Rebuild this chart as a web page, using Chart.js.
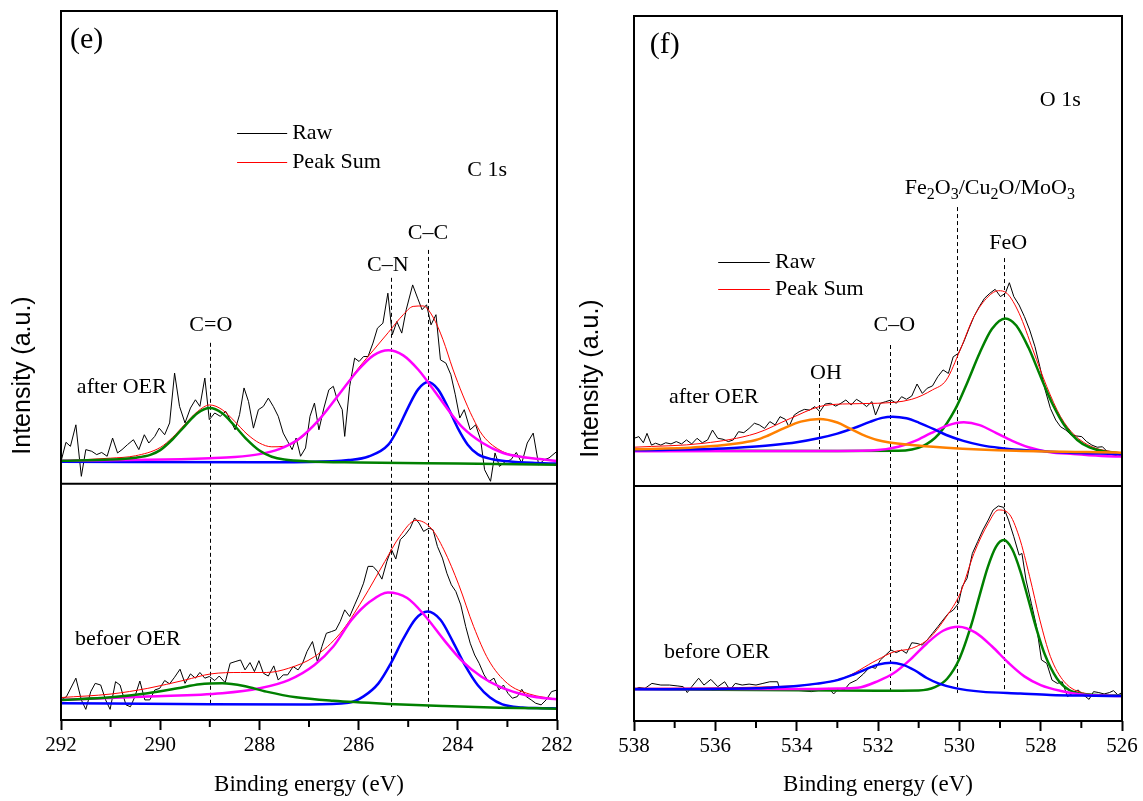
<!DOCTYPE html>
<html>
<head>
<meta charset="utf-8">
<script src="https://cdn.jsdelivr.net/npm/chart.js@4.4.1/dist/chart.umd.min.js"></script>
<style>
html, body { margin: 0; padding: 0; background: #fff; }
#wrapE { position: absolute; left: 0; top: 0; width: 590px; height: 801px; }
#wrapF { position: absolute; left: 560px; top: 0; width: 583px; height: 801px; }
</style>
</head>
<body>
<div id="wrapE"><canvas id="chartE"></canvas></div>
<div id="wrapF"><canvas id="chartF"></canvas></div>
<script>
/*globals Chart*/
// (e) C 1s -- [binding energy (eV), intensity (a.u.)]
const eTicks = [292, 290, 288, 286, 284, 282];
const eRawAfter = [[292.0,9.4],[291.9,17.5],[291.81,15.8],[291.7,24.9],[291.59,3.1],[291.5,14.4],[291.38,13.7],[291.28,12.3],[291.18,13.2],[291.07,11.6],[290.96,19.3],[290.86,13.0],[290.77,14.4],[290.66,16.5],[290.54,18.6],[290.43,14.4],[290.32,20.7],[290.23,17.2],[290.11,20.0],[290.02,23.5],[289.91,20.7],[289.81,25.7],[289.71,46.8],[289.61,32.7],[289.5,25.7],[289.39,32.0],[289.29,35.5],[289.2,32.7],[289.1,44.7],[289.01,27.1],[288.9,29.9],[288.79,28.5],[288.68,30.6],[288.59,27.1],[288.49,22.8],[288.4,29.2],[288.31,40.5],[288.22,34.8],[288.12,23.5],[288.02,31.3],[287.92,32.7],[287.82,36.2],[287.72,32.7],[287.62,28.5],[287.52,21.4],[287.43,17.9],[287.34,14.4],[287.26,19.3],[287.17,11.6],[287.07,15.1],[286.98,28.5],[286.89,34.1],[286.8,22.8],[286.7,32.0],[286.6,39.7],[286.51,41.2],[286.43,35.5],[286.33,31.3],[286.28,20.0],[286.18,41.2],[286.08,53.1],[285.99,51.7],[285.9,53.8],[285.81,53.8],[285.71,59.5],[285.62,65.8],[285.51,67.9],[285.41,80.6],[285.32,63.0],[285.23,68.6],[285.13,63.7],[285.04,73.6],[284.91,84.1],[284.81,78.5],[284.72,73.6],[284.63,75.7],[284.54,67.2],[284.44,71.5],[284.35,52.4],[284.24,51.0],[284.14,46.1],[284.05,37.6],[283.96,27.8],[283.87,31.3],[283.75,22.8],[283.64,24.9],[283.54,18.6],[283.46,5.9],[283.34,1.0],[283.25,13.0],[283.16,7.3],[283.04,9.4],[282.93,10.1],[282.82,13.2],[282.71,8.7],[282.6,17.2],[282.48,21.4],[282.37,8.0],[282.26,10.1],[282.16,10.9],[282.0,13.7]];
const eSumAfter = [[292,9.7],[291,10.8],[290.5,11.8],[290,15.3],[289.75,19.6],[289.5,25.2],[289.25,30.5],[289,33.3],[288.75,31.3],[288.5,26.4],[288.25,21.0],[288,17.2],[287.75,15.6],[287.5,15.8],[287.2,18.6],[286.8,26.8],[286.4,37.6],[286,49.0],[285.7,56.5],[285.4,64.0],[285.1,71.5],[284.9,75.0],[284.7,75.2],[284.5,70.5],[284.3,61.0],[284.1,48.5],[283.9,37.5],[283.7,28.0],[283.5,20.5],[283.1,13.6],[282.7,11.4],[282.3,10.3],[282,9.6]];
const eCOAfter = [[292,9.7],[291,10.2],[290.5,11.0],[290.2,12.2],[290,14.2],[289.75,18.8],[289.5,24.5],[289.25,29.8],[289,32.0],[288.75,29.8],[288.5,24.5],[288.25,18.6],[288,14.0],[287.75,11.4],[287.5,10.2],[287,9.4],[286,9.0],[284,8.5],[282,8.0]];
const eCNAfter = [[292,9.7],[290.25,10.1],[289,10.8],[288.5,11.3],[288,12.5],[287.6,14.6],[287.2,19.0],[286.8,27.0],[286.4,37.6],[286,48.3],[285.7,54.3],[285.4,56.5],[285.1,54.3],[284.8,48.3],[284.5,40.1],[284.2,31.4],[283.9,23.7],[283.5,17.2],[283.1,13.1],[282.7,11.3],[282.3,10.3],[282,9.6]];
const eCCAfter = [[292,9.3],[288,9.1],[287,9.2],[286.2,10.0],[285.8,11.5],[285.4,16.5],[285.2,23.5],[285,32.3],[284.8,39.9],[284.6,43.0],[284.4,39.9],[284.2,32.3],[284,23.5],[283.8,16.5],[283.6,12.5],[283.3,10.3],[283,9.5],[282.5,8.8],[282,8.5]];
const eRawBefore = [[292.0,8.5],[291.89,9.9],[291.7,17.7],[291.59,8.5],[291.5,4.5],[291.4,12.0],[291.31,15.5],[291.2,14.8],[291.1,8.5],[291.01,4.5],[290.9,16.2],[290.81,14.8],[290.69,6.4],[290.6,5.6],[290.51,9.9],[290.41,16.5],[290.31,8.5],[290.21,8.5],[290.11,12.7],[290.01,13.4],[289.91,16.7],[289.81,15.3],[289.71,18.1],[289.6,21.5],[289.5,15.5],[289.39,19.5],[289.29,17.7],[289.2,20.1],[289.1,17.7],[289.01,18.4],[288.9,16.7],[288.81,18.6],[288.69,15.8],[288.59,24.0],[288.49,24.7],[288.38,25.4],[288.29,21.2],[288.19,24.3],[288.1,20.5],[288.01,25.1],[287.92,19.8],[287.82,18.6],[287.71,22.9],[287.62,16.9],[287.52,19.1],[287.43,19.1],[287.32,22.6],[287.22,21.2],[287.13,24.0],[287.04,29.0],[286.93,33.2],[286.83,24.7],[286.74,31.1],[286.65,36.7],[286.55,37.4],[286.46,38.1],[286.37,41.7],[286.28,46.6],[286.18,43.8],[286.08,48.7],[285.99,53.0],[285.9,57.9],[285.81,65.0],[285.71,65.0],[285.62,62.9],[285.53,59.6],[285.43,67.1],[285.34,72.3],[285.25,68.1],[285.16,76.3],[285.06,78.4],[284.96,81.2],[284.87,85.5],[284.78,83.3],[284.69,79.8],[284.58,81.2],[284.5,80.5],[284.41,73.4],[284.31,68.5],[284.22,62.1],[284.13,57.2],[284.04,54.4],[283.94,48.7],[283.84,39.5],[283.75,32.5],[283.66,27.5],[283.57,24.0],[283.47,19.1],[283.38,16.2],[283.27,17.7],[283.17,12.7],[283.08,14.8],[282.99,11.3],[282.9,9.2],[282.8,9.9],[282.71,13.0],[282.62,9.9],[282.52,8.5],[282.43,7.1],[282.32,6.4],[282.22,8.5],[282.11,12.0],[282.0,12.7]];
const eSumBefore = [[292,9.5],[290.99,11.0],[290.25,13.4],[289.5,16.9],[288.98,19.5],[288.38,20.1],[287.86,20.1],[287.41,21.9],[286.89,26.8],[286.37,36.7],[285.92,50.8],[285.47,67.1],[285.17,77.7],[284.84,84.5],[284.54,81.2],[284.28,72.0],[283.98,57.2],[283.68,39.5],[283.38,25.4],[283.0,15.5],[282.56,11.0],[282,8.8]];
const eCOBefore = [[292,8.5],[290.99,9.6],[290.25,11.3],[289.65,13.4],[289.2,15.1],[288.75,15.5],[288.31,14.4],[287.86,12.0],[287.26,9.6],[286.51,8.1],[285.4,6.8],[284.28,5.9],[283.16,5.2],[282,4.8]];
const eCNBefore = [[292,8.5],[290.25,9.9],[288.75,11.3],[288.0,13.4],[287.41,16.9],[286.89,23.3],[286.51,31.1],[286.14,42.4],[285.77,50.1],[285.41,54.0],[285.02,51.6],[284.65,43.8],[284.28,33.9],[283.9,24.7],[283.53,18.4],[283.16,14.1],[282.78,11.3],[282.41,9.6],[282,8.8]];
const eCCBefore = [[292,7.1],[289,6.7],[287,6.6],[286.2,7.3],[285.9,10.0],[285.6,15.5],[285.35,24.0],[285.1,34.3],[284.85,42.8],[284.61,45.9],[284.35,42.4],[284.1,33.2],[283.85,23.0],[283.6,14.8],[283.35,9.5],[283.1,6.6],[282.7,5.3],[282.3,5.0],[282,4.9]];

// (f) O 1s
const fTicks = [538, 536, 534, 532, 530, 528, 526];
const fRawAfter = [[538.0,20.3],[537.88,21.0],[537.77,18.4],[537.68,22.4],[537.57,17.4],[537.47,18.2],[537.34,17.4],[537.22,18.4],[537.09,17.9],[536.96,18.9],[536.83,17.9],[536.71,19.6],[536.58,17.9],[536.45,20.3],[536.32,18.4],[536.19,19.6],[536.07,23.8],[535.94,20.3],[535.81,19.9],[535.68,18.9],[535.56,19.6],[535.43,23.1],[535.3,22.7],[535.17,24.5],[535.04,26.7],[534.92,26.0],[534.79,24.5],[534.66,27.4],[534.53,26.0],[534.41,29.5],[534.28,28.4],[534.19,25.2],[534.06,30.2],[533.94,31.6],[533.81,32.6],[533.68,32.3],[533.55,33.8],[533.43,31.6],[533.3,34.9],[533.17,35.2],[533.04,34.0],[532.91,35.2],[532.79,36.6],[532.66,34.5],[532.53,36.9],[532.4,35.5],[532.28,33.8],[532.15,35.9],[532.06,30.2],[531.94,35.2],[531.81,35.9],[531.68,36.6],[531.55,35.2],[531.42,38.0],[531.3,36.9],[531.17,38.3],[531.04,43.4],[530.91,39.4],[530.79,41.6],[530.66,42.6],[530.53,46.5],[530.4,49.4],[530.27,47.9],[530.15,55.0],[530.02,56.5],[529.89,61.4],[529.76,67.1],[529.64,72.1],[529.51,76.3],[529.38,79.9],[529.25,82.0],[529.12,83.7],[528.99,80.6],[528.87,82.0],[528.77,86.5],[528.66,80.6],[528.53,77.0],[528.4,72.1],[528.27,66.4],[528.14,59.3],[528.02,50.8],[527.89,40.9],[527.76,33.0],[527.63,28.1],[527.51,25.2],[527.38,23.8],[527.25,21.7],[527.12,21.3],[526.99,21.0],[526.87,18.9],[526.74,17.4],[526.61,16.5],[526.48,16.7],[526.36,14.6],[526.23,13.2],[526.1,12.8],[526.0,13.2]];
const fSumAfter = [[538,16.5],[536.28,18.2],[535.0,22.4],[534.15,28.8],[533.44,33.8],[532.87,34.9],[532.02,35.2],[531.17,36.9],[530.66,40.9],[530.32,45.1],[529.98,57.9],[529.64,72.1],[529.29,80.6],[529.04,83.1],[528.83,82.0],[528.53,73.5],[528.19,57.9],[527.85,42.3],[527.51,29.5],[527.17,21.7],[526.74,16.7],[526,14.0]];
const fOHAfter = [[538,15.6],[536.28,16.7],[535.0,19.6],[534.7,21.5],[534.32,24.5],[533.9,27.4],[533.44,28.5],[533.0,27.0],[532.7,24.5],[532.4,22.0],[532.02,19.6],[531.17,17.4],[530.32,16.3],[528.61,15.0],[526,14.2]];
const fCOAfter = [[538,15.2],[536,15.8],[535,16.8],[534.58,17.4],[534,18.6],[533.47,20.3],[533,22.3],[532.6,24.6],[532.2,27.3],[531.9,29.0],[531.64,29.5],[531.3,28.8],[531,27.0],[530.6,24.0],[530.32,21.7],[529.9,19.2],[529.47,17.4],[529,16.2],[528.5,15.4],[527.76,14.6],[527,14.0],[526,13.6]];
const fFe2O3After = [[538,14.8],[533,14.9],[532,15.3],[531.5,16.7],[531.1,19.1],[530.7,22.5],[530.3,25.7],[529.89,27.1],[529.5,25.9],[529.1,22.6],[528.7,19.2],[528.3,16.5],[527.8,14.5],[527.2,13.6],[526.5,12.8],[526,12.5]];
const fFeOAfter = [[538,15.0],[533,14.9],[531.5,15.0],[530.9,17.0],[530.5,22.2],[530.1,32.7],[529.8,44.2],[529.5,56.6],[529.2,66.8],[528.87,71.3],[528.6,68.3],[528.3,58.9],[528,46.5],[527.7,34.6],[527.4,25.4],[527.1,19.6],[526.8,16.4],[526.4,14.6],[526,13.9]];
const fRawBefore = [[538.0,13.2],[537.88,14.3],[537.73,13.9],[537.56,16.0],[537.34,15.3],[537.13,15.3],[536.92,14.9],[536.79,14.6],[536.69,12.1],[536.58,14.6],[536.41,18.2],[536.28,15.3],[536.11,17.7],[535.94,14.6],[535.77,16.7],[535.64,13.2],[535.51,16.0],[535.34,15.3],[535.17,15.7],[535.0,15.3],[534.83,16.0],[534.66,16.7],[534.47,16.7],[534.41,13.2],[534.15,13.2],[533.89,12.9],[533.64,12.5],[533.38,13.2],[533.21,13.9],[533.09,11.5],[532.96,13.9],[532.83,13.2],[532.7,16.0],[532.53,17.4],[532.36,20.0],[532.19,23.1],[532.06,22.4],[531.94,26.0],[531.81,28.1],[531.68,30.2],[531.55,29.1],[531.42,30.2],[531.3,28.8],[531.17,33.3],[531.04,33.0],[530.91,32.3],[530.79,34.5],[530.66,37.3],[530.53,40.1],[530.4,43.0],[530.27,45.8],[530.15,47.2],[530.02,50.1],[529.93,57.2],[529.81,60.7],[529.68,71.3],[529.55,76.3],[529.42,81.3],[529.29,85.5],[529.17,89.8],[529.04,91.5],[528.91,90.9],[528.79,85.5],[528.66,78.4],[528.53,70.6],[528.46,71.3],[528.36,60.0],[528.23,50.1],[528.1,40.1],[527.98,26.0],[527.85,24.5],[527.72,17.4],[527.59,16.0],[527.47,16.7],[527.34,10.4],[527.21,11.8],[527.08,13.2],[526.95,11.1],[526.81,9.2],[526.7,12.5],[526.57,12.1],[526.44,11.5],[526.31,12.1],[526.21,12.9],[526.1,11.1],[526.0,12.1]];
const fSumBefore = [[538,13.9],[534.58,14.6],[532.87,18.2],[532.02,26.0],[531.6,29.5],[531.17,30.9],[530.74,35.2],[530.32,44.4],[529.98,54.3],[529.64,71.3],[529.29,84.1],[529.04,89.8],[528.79,88.4],[528.53,78.4],[528.27,61.4],[528.02,43.0],[527.76,27.4],[527.42,16.7],[526.91,11.8],[526,10.6]];
const fCOBefore = [[538,13.5],[535,13.9],[534.58,14.3],[534,14.9],[533.5,15.9],[533,17.4],[532.6,19.8],[532.3,22.0],[532,24.0],[531.68,24.8],[531.4,24.0],[531.1,21.6],[530.8,18.3],[530.5,15.9],[530.1,14.0],[529.47,12.5],[528.5,11.7],[527.76,11.1],[527,10.8],[526,10.6]];
const fFe2O3Before = [[538,13.6],[534,13.6],[533,13.8],[532.5,14.1],[532,17.0],[531.6,20.5],[531.2,26.2],[530.8,33.0],[530.4,38.4],[530.02,40.1],[529.6,37.6],[529.2,31.8],[528.8,24.9],[528.4,19.0],[528,15.3],[527.5,12.8],[527,11.3],[526,10.6]];
const fFeOBefore = [[538,13.6],[532,12.9],[531,13.0],[530.6,14.4],[530.3,18.0],[530,26.4],[529.7,41.2],[529.5,53.6],[529.3,65.5],[529.1,74.1],[528.91,77.0],[528.7,73.1],[528.5,63.8],[528.3,51.5],[528.1,39.0],[527.9,28.4],[527.6,18.1],[527.3,13.2],[527,11.6],[526.5,11.0],[526,10.8]];

const SERIF = '"Liberation Serif", "Times New Roman", serif';
const SANS = '"Liberation Sans", Arial, sans-serif';
const GREEN = '#008000', MAGENTA = '#ff00ff', BLUE = '#0000ff', ORANGE = '#ff8000', RED = '#ff0000';

Chart.defaults.font.family = SERIF;
Chart.defaults.color = '#000';

function curve(points, axis, color, width, smooth) {
	return {
		data: points.map(([x, y]) => ({ x, y })),
		yAxisID: axis,
		borderColor: color,
		borderWidth: width,
		pointRadius: 0,
		fill: false,
		tension: smooth ? 0.4 : 0,
		cubicInterpolationMode: smooth ? 'monotone' : 'default',
	};
}

// frame, minor ticks, dashed peak markers, labels and legend
function makeDecor(cfg) {
	return {
		id: 'decor',
		beforeDatasetsDraw(chart) {
			const { ctx, scales } = chart;
			ctx.save();
			ctx.strokeStyle = '#000';
			ctx.lineWidth = 1;
			ctx.setLineDash([4, 3]);
			cfg.marks.forEach(m => {
				const px = Math.round(scales.x.getPixelForValue(m.x)) + 0.5;
				ctx.beginPath();
				ctx.moveTo(px, scales[m.fromAxis].getPixelForValue(m.from));
				ctx.lineTo(px, scales[m.toAxis].getPixelForValue(m.to));
				ctx.stroke();
			});
			ctx.restore();
		},
		afterDraw(chart) {
			const { ctx, chartArea: a, scales } = chart;
			const sx = scales.x;
			ctx.save();
			ctx.strokeStyle = '#000';
			ctx.lineWidth = 2;
			ctx.strokeRect(a.left, a.top, a.right - a.left, a.bottom - a.top);
			const mid = scales.yAfter.bottom;
			ctx.beginPath();
			ctx.moveTo(a.left, mid);
			ctx.lineTo(a.right, mid);
			ctx.stroke();
			// minor ticks every 1 eV
			for (let v = Math.ceil(sx.min); v <= sx.max; v++) {
				if (v % 2 === 0) continue;
				const px = sx.getPixelForValue(v);
				ctx.beginPath();
				ctx.moveTo(px, a.bottom);
				ctx.lineTo(px, a.bottom + 7);
				ctx.stroke();
			}
			ctx.fillStyle = '#000';
			ctx.textBaseline = 'middle';
			// legend
			cfg.legend.forEach(l => {
				const y = Math.round(scales.yAfter.getPixelForValue(l.y)) + 0.5;
				ctx.strokeStyle = l.color;
				ctx.lineWidth = 1;
				ctx.beginPath();
				ctx.moveTo(sx.getPixelForValue(l.x0), y);
				ctx.lineTo(sx.getPixelForValue(l.x1), y);
				ctx.stroke();
				ctx.font = '22px ' + SERIF;
				ctx.textAlign = 'left';
				ctx.fillText(l.text, sx.getPixelForValue(l.tx), y);
			});
			// labels
			cfg.labels.forEach(t => {
				const size = t.size || 22;
				const y = scales[t.axis].getPixelForValue(t.y);
				const parts = t.parts || [[t.text, 0]];
				const fontOf = sub => (sub ? Math.round(size * 0.72) : size) + 'px ' + SERIF;
				let w = 0;
				parts.forEach(([s, sub]) => { ctx.font = fontOf(sub); w += ctx.measureText(s).width; });
				let x = sx.getPixelForValue(t.x);
				if (t.align === 'center') x -= w / 2;
				ctx.textAlign = 'left';
				parts.forEach(([s, sub]) => {
					ctx.font = fontOf(sub);
					ctx.fillText(s, x, sub ? y + 7 : y);
					x += ctx.measureText(s).width;
				});
			});
			// y axis title
			ctx.translate(a.left - cfg.yTitleGap, (a.top + a.bottom) / 2 + 10);
			ctx.rotate(-Math.PI / 2);
			ctx.font = '25px ' + SANS;
			ctx.textAlign = 'center';
			ctx.fillText('Intensity (a.u.)', 0, 0);
			ctx.restore();
		},
	};
}

function buildPanel(id, p) {
	const yBase = {
		type: 'linear',
		position: 'left',
		stack: 'panel',
		min: 0,
		afterFit: s => { s.width = p.yWidth; },
		grid: { display: false },
		border: { display: false },
		ticks: { display: false },
	};
	new Chart(document.getElementById(id), {
		type: 'line',
		data: { datasets: p.datasets },
		options: {
			responsive: true,
			maintainAspectRatio: false,
			animation: false,
			layout: { padding: { top: p.padTop, right: p.padRight, left: 0, bottom: 0 } },
			plugins: { legend: { display: false }, tooltip: { enabled: false } },
			scales: {
				x: {
					type: 'linear',
					reverse: true,
					min: p.xMin,
					max: p.xMax,
					afterFit: s => { s.height = p.xHeight; },
					border: { display: false },
					grid: { drawOnChartArea: false, drawTicks: true, tickLength: 10, tickWidth: 2, tickColor: '#000' },
					ticks: {
						stepSize: 2,
						autoSkip: false,
						maxRotation: 0,
						padding: 3,
						color: '#000',
						font: { family: SERIF, size: 21 },
						callback: v => (p.ticks.includes(v) ? String(v) : ''),
					},
					title: {
						display: true,
						text: 'Binding energy (eV)',
						color: '#000',
						font: { family: SERIF, size: 23 },
						padding: { top: 0, bottom: 2 },
					},
				},
				yBefore: Object.assign({}, yBase, { stackWeight: 1, max: 100 }),
				yAfter: Object.assign({}, yBase, { stackWeight: 2, max: 200 }),
			},
		},
		plugins: [makeDecor(p.decor)],
	});
}

buildPanel('chartE', {
	xMin: 282, xMax: 292, ticks: eTicks,
	padTop: 11, padRight: 33, yWidth: 61, xHeight: 81,
	datasets: [
		curve(eCOAfter, 'yAfter', GREEN, 2.5, true),
		curve(eCNAfter, 'yAfter', MAGENTA, 2.5, true),
		curve(eCCAfter, 'yAfter', BLUE, 2.5, true),
		curve(eCOBefore, 'yBefore', GREEN, 2.5, true),
		curve(eCNBefore, 'yBefore', MAGENTA, 2.5, true),
		curve(eCCBefore, 'yBefore', BLUE, 2.5, true),
		curve(eSumAfter, 'yAfter', RED, 1, true),
		curve(eSumBefore, 'yBefore', RED, 1, true),
		curve(eRawAfter, 'yAfter', '#000', 1, false),
		curve(eRawBefore, 'yBefore', '#000', 1, false),
	],
	decor: {
		yTitleGap: 38,
		marks: [
			{ x: 289.0, from: 59.6, fromAxis: 'yAfter', to: 7.2, toAxis: 'yBefore' },
			{ x: 285.35, from: 87.1, fromAxis: 'yAfter', to: 5.5, toAxis: 'yBefore' },
			{ x: 284.6, from: 98.9, fromAxis: 'yAfter', to: 5.1, toAxis: 'yBefore' },
		],
		legend: [
			{ text: 'Raw', color: '#000', x0: 288.45, x1: 287.44, tx: 287.34, y: 148.4 },
			{ text: 'Peak Sum', color: RED, x0: 288.45, x1: 287.44, tx: 287.34, y: 136.2 },
		],
		labels: [
			{ text: '(e)', x: 291.82, y: 187.7, axis: 'yAfter', align: 'left', size: 30 },
			{ text: 'C 1s', x: 283.81, y: 132.8, axis: 'yAfter', align: 'left' },
			{ text: 'C\u2013C', x: 284.6, y: 106.1, axis: 'yAfter', align: 'center' },
			{ text: 'C\u2013N', x: 285.41, y: 92.6, axis: 'yAfter', align: 'center' },
			{ text: 'C=O', x: 288.98, y: 67.2, axis: 'yAfter', align: 'center' },
			{ text: 'after OER', x: 291.68, y: 40.6, axis: 'yAfter', align: 'left' },
			{ text: 'befoer OER', x: 291.72, y: 34.3, axis: 'yBefore', align: 'left' },
		],
	},
});

buildPanel('chartF', {
	xMin: 526, xMax: 538, ticks: fTicks,
	padTop: 16, padRight: 21, yWidth: 74, xHeight: 80,
	datasets: [
		curve(fOHAfter, 'yAfter', ORANGE, 2.5, true),
		curve(fCOAfter, 'yAfter', BLUE, 2.5, true),
		curve(fFe2O3After, 'yAfter', MAGENTA, 2.5, true),
		curve(fFeOAfter, 'yAfter', GREEN, 2.5, true),
		curve(fCOBefore, 'yBefore', BLUE, 2.5, true),
		curve(fFe2O3Before, 'yBefore', MAGENTA, 2.5, true),
		curve(fFeOBefore, 'yBefore', GREEN, 2.5, true),
		curve(fSumAfter, 'yAfter', RED, 1, true),
		curve(fSumBefore, 'yBefore', RED, 1, true),
		curve(fRawAfter, 'yAfter', '#000', 1, false),
		curve(fRawBefore, 'yBefore', '#000', 1, false),
	],
	decor: {
		yTitleGap: 43,
		marks: [
			{ x: 533.44, from: 43.4, fromAxis: 'yAfter', to: 15.7, toAxis: 'yAfter' },
			{ x: 531.7, from: 60.0, fromAxis: 'yAfter', to: 12.3, toAxis: 'yBefore' },
			{ x: 530.06, from: 118.7, fromAxis: 'yAfter', to: 11.9, toAxis: 'yBefore' },
			{ x: 528.9, from: 97.0, fromAxis: 'yAfter', to: 11.5, toAxis: 'yBefore' },
		],
		legend: [
			{ text: 'Raw', color: '#000', x0: 535.93, x1: 534.66, tx: 534.53, y: 95.3 },
			{ text: 'Peak Sum', color: RED, x0: 535.93, x1: 534.66, tx: 534.53, y: 83.8 },
		],
		labels: [
			{ text: '(f)', x: 537.61, y: 187.7, axis: 'yAfter', align: 'left', size: 30 },
			{ text: 'O 1s', x: 528.02, y: 164.3, axis: 'yAfter', align: 'left' },
			{ parts: [['Fe', 0], ['2', 1], ['O', 0], ['3', 1], ['/Cu', 0], ['2', 1], ['O/MoO', 0], ['3', 1]], x: 531.34, y: 126.8, axis: 'yAfter', align: 'left' },
			{ text: 'FeO', x: 528.8, y: 103.4, axis: 'yAfter', align: 'center' },
			{ text: 'C\u2013O', x: 531.6, y: 68.5, axis: 'yAfter', align: 'center' },
			{ text: 'OH', x: 533.28, y: 48.1, axis: 'yAfter', align: 'center' },
			{ text: 'after OER', x: 537.14, y: 37.9, axis: 'yAfter', align: 'left' },
			{ text: 'before OER', x: 537.26, y: 29.4, axis: 'yBefore', align: 'left' },
		],
	},
});
</script>
</body>
</html>
